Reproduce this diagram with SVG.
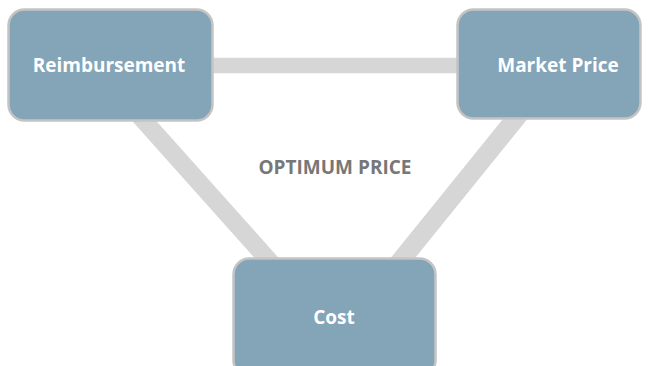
<svg xmlns="http://www.w3.org/2000/svg" width="648" height="366" viewBox="0 0 648 366">
  <style>
    .box { fill: #84a4b8; stroke: #c4c4c4; stroke-width: 2.5; }
    .label { font-family: "Open Sans", Lato, "Liberation Sans", sans-serif; font-weight: bold; font-size: 19px; fill: #ffffff; text-anchor: middle; }
    .link { stroke: #d6d6d6; fill: none; }
    .center { font-family: "Open Sans", Lato, "Liberation Sans", sans-serif; font-weight: bold; font-size: 19px; fill: #777777; text-anchor: middle; }
  </style>
  <rect width="648" height="366" fill="#ffffff"/>
  <g id="connectors">
    <line class="link" x1="212" y1="65.5" x2="458" y2="65.5" stroke-width="15.5"/>
    <line class="link" x1="138" y1="114" x2="272" y2="264" stroke-width="18"/>
    <line class="link" x1="520" y1="113" x2="398" y2="264" stroke-width="19"/>
  </g>
  <g id="reimbursement">
    <rect class="box" x="8.5" y="9.5" width="204" height="111" rx="16"/>
    <text class="label" x="109" y="72">Reimbursement</text>
  </g>
  <g id="market-price">
    <rect class="box" x="457.5" y="9.5" width="183" height="109" rx="16"/>
    <text class="label" x="558" y="72">Market Price</text>
  </g>
  <g id="cost">
    <rect class="box" x="233.5" y="258.5" width="202" height="118" rx="16"/>
    <text class="label" x="334" y="324">Cost</text>
  </g>
  <text class="center" x="335" y="174">OPTIMUM PRICE</text>
</svg>
